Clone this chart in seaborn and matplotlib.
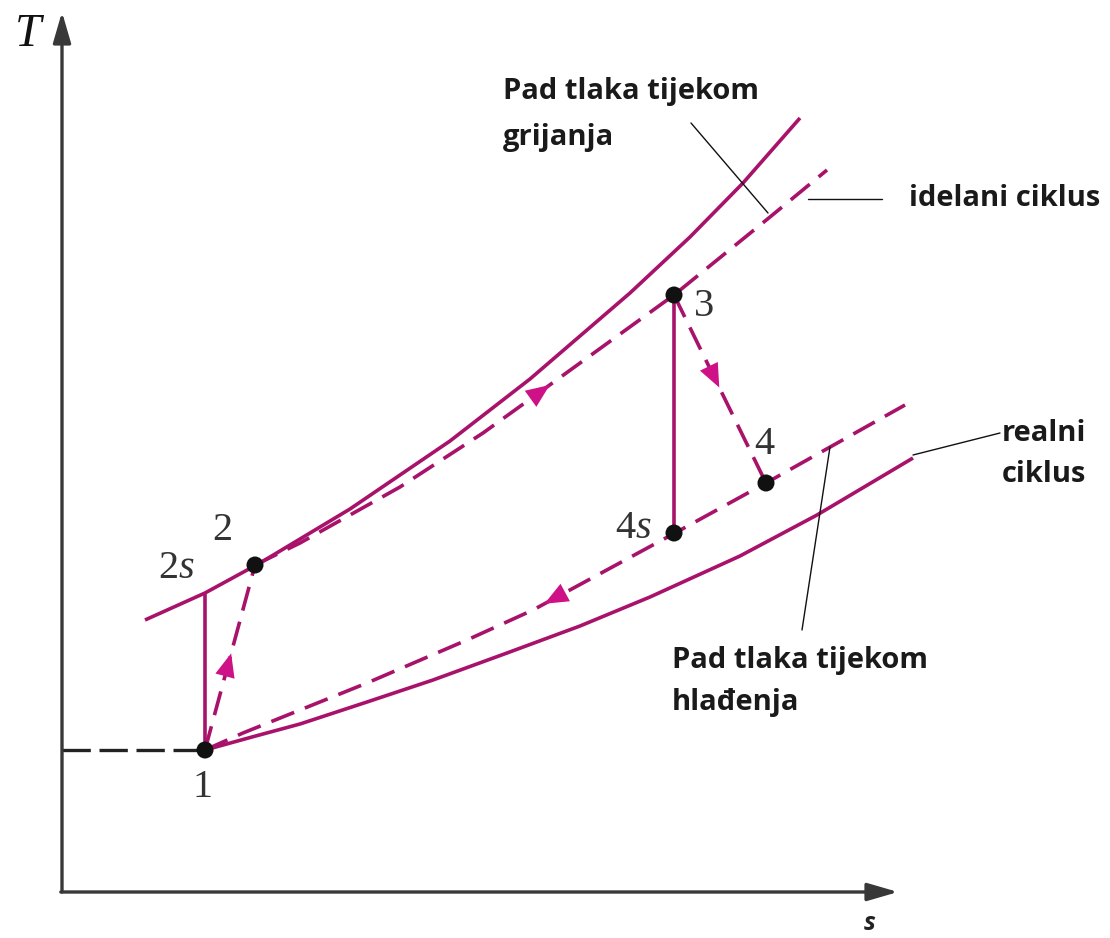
import numpy as np
import matplotlib
matplotlib.use('Agg')
import matplotlib.pyplot as plt
import seaborn as sns

# state points (s, T) in diagram units
s_pts = {'1': 14.3, '2s': 14.3, '2': 19.3, '3': 61.2, '4s': 61.2, '4': 70.4}
T_pts = {'1': 14.2, '2s': 29.9, '2': 32.7, '3': 59.7, '4s': 35.9, '4': 40.9}

# real heating line (with pressure drop)
s_heat_real = [8.3, 14.3, 19.8, 28.8, 38.8, 46.8, 56.8, 62.8, 68.1, 73.8]
T_heat_real = [27.2, 29.9, 32.9, 38.3, 45.1, 51.3, 59.9, 65.5, 70.9, 77.4]
# ideal heating line
s_heat_ideal = [19.3, 23.8, 33.8, 42.1, 47.8, 61.2, 70.8, 76.5]
T_heat_ideal = [32.7, 34.9, 40.5, 45.9, 50.0, 59.7, 67.5, 72.2]
# ideal cooling line
s_cool_ideal = [14.3, 18.1, 30.5, 40.5, 47.1, 61.3, 70.4, 84.3]
T_cool_ideal = [14.2, 15.9, 20.9, 25.2, 28.2, 35.9, 40.9, 48.7]
# real cooling line
s_cool_real = [14.3, 19.0, 23.8, 30.5, 37.1, 44.5, 51.8, 58.8, 67.8, 75.5, 85.1]
T_cool_real = [14.2, 15.5, 16.8, 19.0, 21.2, 23.9, 26.6, 29.5, 33.6, 37.7, 43.4]

LINE = '#A8126A'
HEAD = '#CF1188'
AXC = '#383838'

sns.set_theme(style='white')
plt.rcParams['mathtext.fontset'] = 'custom'
plt.rcParams['mathtext.rm'] = 'Liberation Serif'
plt.rcParams['mathtext.it'] = 'Liberation Serif:italic'

fig = plt.figure(figsize=(11.1, 9.38), dpi=100)
ax = fig.add_axes([0, 0, 1, 1])
ax.set_xlim(-6.2, 104.8)
ax.set_ylim(-4.6, 89.2)
ax.axis('off')

lw = 2.6
dash = (0, (6.8, 3.2))

def curve(s, T, ls='-', color=LINE, width=lw):
    sns.lineplot(x=s, y=T, ax=ax, sort=False, estimator=None, color=color,
                 linewidth=width, linestyle=ls, solid_capstyle='butt')

curve(s_heat_real, T_heat_real)
curve(s_heat_ideal, T_heat_ideal, ls=dash)
curve(s_cool_ideal, T_cool_ideal, ls=dash)
curve(s_cool_real, T_cool_real)
# isentropic compression / expansion
curve([s_pts['1'], s_pts['2s']], [T_pts['1'], T_pts['2s']])
curve([s_pts['3'], s_pts['4s']], [T_pts['3'], T_pts['4s']])
# real compression / expansion
s_12 = [s_pts['1'], s_pts['2']]
T_12 = [T_pts['1'], T_pts['2']]
s_34 = [s_pts['3'], s_pts['4']]
T_34 = [T_pts['3'], T_pts['4']]
curve(s_12, T_12, ls=dash)
curve(s_34, T_34, ls=dash)
# reference temperature at state 1
curve([0, s_pts['1']], [T_pts['1'], T_pts['1']], ls=(0, (8.5, 2.6)), color='#222222', width=2.4)


def arrow_at(s, T, s_at, backward=False):
    s = np.asarray(s, float)
    T = np.asarray(T, float)
    y = np.interp(s_at, s, T)
    i = min(max(np.searchsorted(s, s_at) - 1, 0), len(s) - 2)
    d = np.array([s[i + 1] - s[i], T[i + 1] - T[i]])
    d = d / np.hypot(*d)
    if backward:
        d = -d
    c = np.array([s_at, y])
    # shaft longer than the head so the head keeps its direction
    ax.annotate('', xy=c + d * 1.2, xytext=c - d * 2.0,
                arrowprops=dict(arrowstyle='-|>,head_length=1.0,head_width=0.42',
                                color=HEAD, lw=0, mutation_scale=17,
                                shrinkA=0, shrinkB=0))

arrow_at(s_heat_ideal, T_heat_ideal, 47.8)
arrow_at(s_cool_ideal, T_cool_ideal, 49.3, backward=True)
arrow_at(s_12, T_12, 16.6)
arrow_at(s_34, T_34, 65.2)

# state points
names = ['1', '2', '3', '4s', '4']
sns.scatterplot(x=[s_pts[n] for n in names], y=[T_pts[n] for n in names], ax=ax,
                color='#111111', s=150, edgecolor='none', zorder=5)

lab_kw = dict(fontsize=29, color='#333333', ha='center', va='center',
              family='Liberation Serif')
ax.text(s_pts['1'] - 0.2, T_pts['1'] - 3.7, '1', **lab_kw)
ax.text(s_pts['2s'] - 2.9, T_pts['2s'] + 2.4, '2$s$', **lab_kw)
ax.text(s_pts['2'] - 3.3, T_pts['2'] + 3.4, '2', **lab_kw)
ax.text(s_pts['3'] + 3.0, T_pts['3'] - 1.1, '3', **lab_kw)
ax.text(s_pts['4'] - 0.2, T_pts['4'] + 3.9, '4', **lab_kw)
ax.text(s_pts['4s'] - 4.1, T_pts['4s'] + 0.5, '4$s$', **lab_kw)

# axes with arrows
ax.annotate('', xy=(0, 88.0), xytext=(0, 0),
            arrowprops=dict(arrowstyle='-|>,head_length=1.1,head_width=0.32',
                            color=AXC, lw=2.4, mutation_scale=17, shrinkA=0, shrinkB=0))
ax.annotate('', xy=(83.6, 0), xytext=(-0.12, 0),
            arrowprops=dict(arrowstyle='-|>,head_length=1.1,head_width=0.32',
                            color=AXC, lw=2.4, mutation_scale=17, shrinkA=0, shrinkB=0))
ax.text(-3.4, 85.7, 'T', fontsize=34, style='italic', family='Liberation Serif',
        color='#111111', ha='center', va='center')
ax.text(80.8, -3.1, 's', fontsize=18, style='italic', weight='bold', family='Open Sans',
        color='#222222', ha='center', va='center')

# annotations, one text per line
note_kw = dict(fontsize=21, weight='bold', family='Open Sans', color='#1a1a1a',
               ha='left', va='center')
notes = [
    (44.1, 80.0, 'Pad tlaka tijekom'), (44.1, 75.4, 'grijanja'),
    (84.7, 69.3, 'idelani ciklus'),
    (94.0, 45.9, 'realni'), (94.0, 41.7, 'ciklus'),
    (61.0, 23.2, 'Pad tlaka tijekom'), (61.0, 19.0, 'hlađenja'),
]
for x, y, txt in notes:
    ax.text(x, y, txt, **note_kw)

lead_kw = dict(color='#111111', linewidth=1.0)
ax.plot([62.9, 70.6], [76.9, 67.9], **lead_kw)
ax.plot([74.6, 82.0], [69.3, 69.3], **lead_kw)
ax.plot([85.1, 93.8], [43.7, 45.9], **lead_kw)
ax.plot([74.0, 76.8], [26.2, 44.5], **lead_kw)

fig.savefig('out.png', dpi=100)
